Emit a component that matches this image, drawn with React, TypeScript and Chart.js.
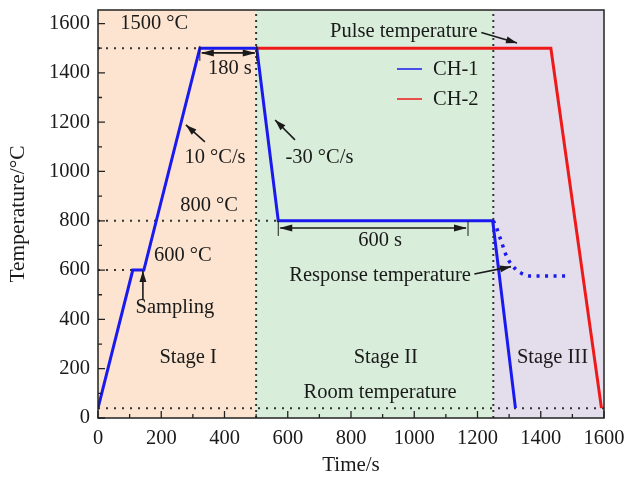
import React, { useEffect, useRef } from "react";
import { Chart, registerables } from "chart.js";
Chart.register(...registerables);

// ---- data ----
const ch1X = [0, 110, 145, 322, 502, 570, 1248, 1320];
const ch1Y = [40, 600, 600, 1500, 1500, 800, 800, 40];
const ch2X = [500, 1432, 1592];
const ch2Y = [1500, 1500, 40];
const respX = [1250, 1258, 1266, 1277, 1288, 1300, 1311, 1323, 1336, 1351, 1368, 1485];
const respY = [800, 780, 750, 710, 668, 636, 617, 601, 589, 580, 576, 576];

const xTickValues = [0, 200, 400, 600, 800, 1000, 1200, 1400, 1600];
const yTickValues = [0, 200, 400, 600, 800, 1000, 1200, 1400, 1600];

const refLevels = [1500, 800, 600, 40];
const refEnds = [322, 570, 110, 1600];
const stageEdges = [0, 500, 1250, 1600];
const stageColors = ["#fce4d0", "#d9eeda", "#e3ddec"];
const stageLines = [500, 1250];

const labelTexts = [
  "1500 °C", "Pulse temperature", "180 s", "10 °C/s", "-30 °C/s", "800 °C",
  "600 s", "600 °C", "Sampling", "Stage I", "Stage II", "Stage III",
  "Room temperature", "Response temperature",
];
const labelX = [70, 967, 417, 370, 700, 351, 892, 268, 243, 285, 910, 1437, 892, 892];
const labelY = [1598, 1568, 1418, 1057, 1057, 862, 720, 659, 446, 243, 243, 243, 105, 578];
const labelAlign = ["left", "center", "center", "center", "center", "center", "center", "center", "center", "center", "center", "center", "center", "center"];

const arrowFromX = [1212, 338, 623, 142, 1190];
const arrowFromY = [1564, 1120, 1128, 479, 584];
const arrowToX = [1325, 278, 560, 142, 1306];
const arrowToY = [1521, 1189, 1209, 596, 614];

const spanX0 = [322, 570];
const spanX1 = [502, 1170];
const spanY = [1481, 771];

const legendNames = ["CH-1", "CH-2"];
const legendColors = ["#1a1aee", "#ee1a1a"];

const FONT = "'Liberation Serif', 'Times New Roman', serif";
const TEXT = "#1a1a1a";

function arrowHead(ctx: CanvasRenderingContext2D, x0: number, y0: number, x1: number, y1: number, len = 11, wid = 3.5) {
  const a = Math.atan2(y1 - y0, x1 - x0);
  ctx.beginPath();
  ctx.moveTo(x1, y1);
  ctx.lineTo(x1 - len * Math.cos(a) + wid * Math.sin(a), y1 - len * Math.sin(a) - wid * Math.cos(a));
  ctx.lineTo(x1 - len * Math.cos(a) - wid * Math.sin(a), y1 - len * Math.sin(a) + wid * Math.cos(a));
  ctx.closePath();
  ctx.fill();
}

const bgPlugin = {
  id: "bg",
  beforeDatasetsDraw(chart: any) {
    const { ctx, chartArea: a, scales } = chart;
    const xs = scales.x;
    ctx.save();
    for (let i = 0; i < stageColors.length; i++) {
      const x0 = xs.getPixelForValue(stageEdges[i]);
      const x1 = xs.getPixelForValue(stageEdges[i + 1]);
      ctx.fillStyle = stageColors[i];
      ctx.fillRect(x0, a.top, x1 - x0, a.bottom - a.top);
    }
    ctx.restore();
  },
  afterDatasetsDraw(chart: any) {
    const { ctx, chartArea: a, scales } = chart;
    const xs = scales.x, ys = scales.y;
    ctx.save();
    ctx.fillStyle = TEXT;
    ctx.strokeStyle = TEXT;
    ctx.font = `20.5px ${FONT}`;
    ctx.textBaseline = "middle";
    for (let i = 0; i < labelTexts.length; i++) {
      ctx.textAlign = labelAlign[i] as CanvasTextAlign;
      ctx.fillText(labelTexts[i], xs.getPixelForValue(labelX[i]), ys.getPixelForValue(labelY[i]));
    }
    ctx.lineWidth = 1.6;
    for (let i = 0; i < arrowFromX.length; i++) {
      const x0 = xs.getPixelForValue(arrowFromX[i]), y0 = ys.getPixelForValue(arrowFromY[i]);
      const x1 = xs.getPixelForValue(arrowToX[i]), y1 = ys.getPixelForValue(arrowToY[i]);
      ctx.beginPath();
      ctx.moveTo(x0, y0);
      ctx.lineTo(x1, y1);
      ctx.stroke();
      arrowHead(ctx, x0, y0, x1, y1);
    }
    for (let i = 0; i < spanX0.length; i++) {
      const x0 = xs.getPixelForValue(spanX0[i]), x1 = xs.getPixelForValue(spanX1[i]);
      const y = ys.getPixelForValue(spanY[i]);
      ctx.lineWidth = 1.6;
      ctx.beginPath();
      ctx.moveTo(x0 + 2, y);
      ctx.lineTo(x1 - 2, y);
      ctx.stroke();
      arrowHead(ctx, x1, y, x0 + 1, y, 13, 3.5);
      arrowHead(ctx, x0, y, x1 - 1, y, 13, 3.5);
      ctx.lineWidth = 1;
      ctx.beginPath();
      ctx.moveTo(x0, y - 7);
      ctx.lineTo(x0, y + 8);
      ctx.moveTo(x1, y - 7);
      ctx.lineTo(x1, y + 8);
      ctx.stroke();
    }
    ctx.textAlign = "left";
    for (let i = 0; i < legendNames.length; i++) {
      const ly = a.top + 59 + i * 30;
      ctx.strokeStyle = legendColors[i];
      ctx.lineWidth = 1.5;
      ctx.beginPath();
      ctx.moveTo(a.left + 299, ly);
      ctx.lineTo(a.left + 324, ly);
      ctx.stroke();
      ctx.fillStyle = TEXT;
      ctx.fillText(legendNames[i], a.left + 335, ly + 1);
    }
    ctx.restore();
  },
  afterDraw(chart: any) {
    const { ctx, chartArea: a, scales } = chart;
    const xs = scales.x, ys = scales.y;
    ctx.save();
    ctx.strokeStyle = "#222";
    ctx.lineWidth = 1.5;
    ctx.strokeRect(a.left, a.top, a.right - a.left, a.bottom - a.top);
    ctx.lineWidth = 1.3;
    ctx.beginPath();
    for (let v = 0; v <= 1600; v += 100) {
      const px = xs.getPixelForValue(v);
      const len = v % 200 === 0 ? 7 : 4;
      ctx.moveTo(px, a.bottom);
      ctx.lineTo(px, a.bottom - len);
      const py = ys.getPixelForValue(v);
      ctx.moveTo(a.left, py);
      ctx.lineTo(a.left + len, py);
    }
    ctx.stroke();
    ctx.restore();
  },
};

export default function App() {
  const ref = useRef<HTMLCanvasElement>(null);
  useEffect(() => {
    if (!ref.current) return;
    const pts = (xs: number[], ys: number[]) => xs.map((x, i) => ({ x, y: ys[i] }));
    const refSets = refLevels.map((lv, i) => ({
      data: [{ x: 0, y: lv }, { x: refEnds[i], y: lv }],
      borderColor: "#333",
      borderWidth: 2,
      borderDash: [2, 6],
      pointRadius: 0,
    }));
    const vSets = stageLines.map((xv) => ({
      data: [{ x: xv, y: 0 }, { x: xv, y: 1655 }],
      borderColor: "#333",
      borderWidth: 2,
      borderDash: [2, 4],
      pointRadius: 0,
    }));
    const chart = new Chart(ref.current, {
      type: "line",
      data: {
        datasets: [
          { data: pts(ch1X, ch1Y), borderColor: "#1a1aee", borderWidth: 3, pointRadius: 0, tension: 0 },
          { data: pts(ch2X, ch2Y), borderColor: "#ee1a1a", borderWidth: 3, pointRadius: 0, tension: 0 },
          { data: pts(respX, respY), borderColor: "#1a1aee", borderWidth: 3.5, borderDash: [3, 5.5], pointRadius: 0, cubicInterpolationMode: "monotone" },
          ...refSets,
          ...vSets,
        ] as any,
      },
      options: {
        animation: false,
        responsive: true,
        maintainAspectRatio: false,
        layout: { padding: { left: 0, top: 10, right: 23, bottom: 0 } },
        plugins: { legend: { display: false }, tooltip: { enabled: false } },
        scales: {
          x: {
            type: "linear",
            min: 0,
            max: 1600,
            grid: { display: false, drawTicks: false },
            border: { display: false },
            afterBuildTicks: (s: any) => { s.ticks = xTickValues.map((v) => ({ value: v })); },
            ticks: { padding: 8, color: TEXT, font: { family: FONT, size: 20.5 }, callback: (v: any) => String(v) },
            title: { display: true, text: "Time/s", color: TEXT, font: { family: FONT, size: 21 }, padding: 2 },
            afterFit: (s: any) => { s.height = 62; s.paddingRight = 0; s.paddingLeft = 0; },
          },
          y: {
            type: "linear",
            min: 0,
            max: 1655,
            grid: { display: false, drawTicks: false },
            border: { display: false },
            afterBuildTicks: (s: any) => { s.ticks = yTickValues.map((v) => ({ value: v })); },
            ticks: { padding: 8, color: TEXT, font: { family: FONT, size: 20.5 }, callback: (v: any) => String(v) },
            title: { display: true, text: "Temperature/°C", color: TEXT, font: { family: FONT, size: 21.5 }, padding: 5 },
            afterFit: (s: any) => { s.width = 98; s.paddingTop = 0; s.paddingBottom = 0; },
          },
        },
      } as any,
      plugins: [bgPlugin],
    });
    return () => chart.destroy();
  }, []);
  return (
    <div style={{ position: "fixed", left: 0, top: 0, width: 627, height: 480, background: "#fff" }}>
      <canvas ref={ref} />
    </div>
  );
}
